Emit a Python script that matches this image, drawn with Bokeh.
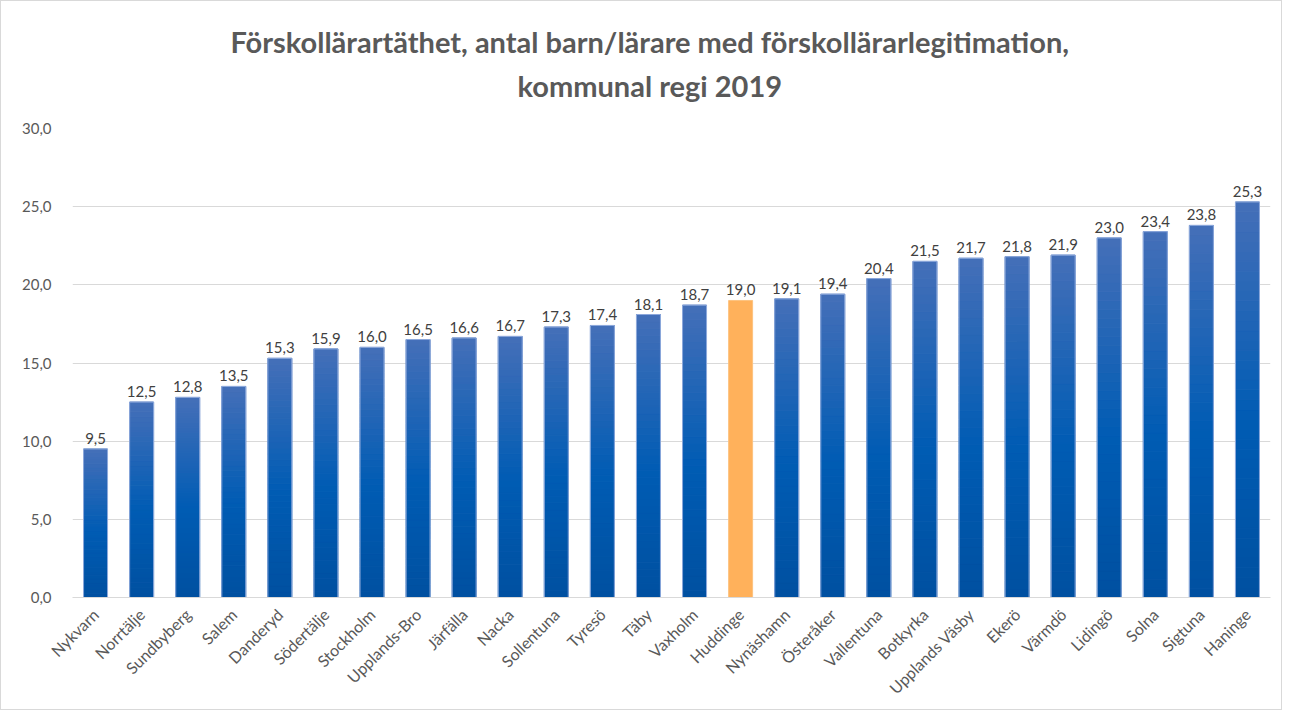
from bokeh.plotting import figure
from bokeh.models import FactorRange, Range1d, Title, CustomJSTickFormatter, ColumnDataSource, FixedTicker
from bokeh.core.properties import value
from bokeh.embed import file_html
from bokeh.resources import INLINE
import math

# ---- data ----
municipalities = ["Nykvarn", "Norrtälje", "Sundbyberg", "Salem", "Danderyd", "Södertälje",
                  "Stockholm", "Upplands-Bro", "Järfälla", "Nacka", "Sollentuna", "Tyresö",
                  "Täby", "Vaxholm", "Huddinge", "Nynäshamn", "Österåker", "Vallentuna",
                  "Botkyrka", "Upplands Väsby", "Ekerö", "Värmdö", "Lidingö", "Solna",
                  "Sigtuna", "Haninge"]
values = [9.5, 12.5, 12.8, 13.5, 15.3, 15.9, 16.0, 16.5, 16.6, 16.7, 17.3, 17.4, 18.1,
          18.7, 19.0, 19.1, 19.4, 20.4, 21.5, 21.7, 21.8, 21.9, 23.0, 23.4, 23.8, 25.3]
highlight = "Huddinge"
y_ticks = [0, 5, 10, 15, 20, 25, 30]
title_line1 = "Förskollärartäthet,  antal barn/lärare  med förskollärarlegitimation,"
title_line2 = "kommunal regi 2019"

FONT = "Lato"
GREY = "#595959"
W, H = 1282, 710
FRAME_L, FRAME_R, FRAME_T, FRAME_B = 71, 1269, 127, 596

p = figure(x_range=FactorRange(*municipalities), y_range=Range1d(0, 30),
           width=W, height=H, output_backend="svg", toolbar_location=None,
           min_border_left=FRAME_L, min_border_right=W - FRAME_R, min_border_top=FRAME_T,
           min_border_bottom=H - FRAME_B)
p.styles = {"border": "1px solid #d9d9d9"}
p.outline_line_color = None
p.background_fill_color = "white"
p.border_fill_color = "white"

# gradient bars (stacked slices per bar, light at the top, dark at the bottom)
def lerp(c1, c2, t):
    return "#%02x%02x%02x" % tuple(int(round(a + (b - a) * t)) for a, b in zip(c1, c2))

top_c = (0x45, 0x6F, 0xB8)
mid_c = (0x00, 0x5C, 0xB4)
bot_c = (0x00, 0x50, 0xA0)
N = 40
xs, bots, tops, cols = [], [], [], []
for name, v in zip(municipalities, values):
    if name == highlight:
        continue
    for k in range(N):
        f = (k + 0.5) / N  # 0 bottom .. 1 top
        if f > 0.45:
            c = lerp(mid_c, top_c, (f - 0.45) / 0.55)
        else:
            c = lerp(bot_c, mid_c, f / 0.45)
        xs.append(name)
        bots.append(v * k / N)
        tops.append(v * (k + 1) / N)
        cols.append(c)
p.vbar(x=xs, bottom=bots, top=tops, width=0.52, fill_color=cols, line_color=cols, line_width=1)

src = ColumnDataSource(dict(x=municipalities, top=values,
                            oc=["#FDC27E" if n == highlight else "#8FAADC" for n in municipalities],
                            fc=["#FFB15B" if n == highlight else "#000000" for n in municipalities],
                            fa=[1.0 if n == highlight else 0.0 for n in municipalities],
                            lab=[f"{v:.1f}".replace(".", ",") for v in values]))
p.vbar(x="x", top="top", bottom=0, width=0.52, source=src, fill_color="fc", fill_alpha="fa",
       line_color="oc", line_width=1)

p.text(x="x", y="top", text="lab", source=src, text_align="center", text_baseline="bottom",
       y_offset=-5, text_font=value(FONT), text_font_size="15px", text_color="#404040")

# axes
p.yaxis.ticker = FixedTicker(ticks=y_ticks)
p.yaxis.formatter = CustomJSTickFormatter(code="return tick.toFixed(1).replace('.', ',');")
p.yaxis.axis_line_color = None
p.yaxis.major_tick_line_color = None
p.yaxis.minor_tick_line_color = None
p.yaxis.major_label_text_font = FONT
p.yaxis.major_label_text_font_size = "15px"
p.yaxis.major_label_text_color = GREY
p.yaxis.major_label_standoff = 15

p.xaxis.axis_line_color = "#D9D9D9"
p.xaxis.major_tick_line_color = None
p.xaxis.minor_tick_line_color = None
p.xaxis.major_label_orientation = math.pi / 4
p.xaxis.major_label_text_font = FONT
p.xaxis.major_label_text_font_size = "16px"
p.xaxis.major_label_text_color = GREY
p.xaxis.major_label_standoff = 8

p.xgrid.grid_line_color = None
p.ygrid.grid_line_color = "#D9D9D9"
p.ygrid.grid_line_width = 1

# titles: stacked in the "above" panel (first added sits closest to the plot)
spacer = Title(text=" ", text_font_size="16px", standoff=0)
t2 = Title(text=title_line2, align="left", offset=445, standoff=14, text_font=FONT,
           text_font_size="29px", text_font_style="bold", text_color=GREY)
t1 = Title(text=title_line1, align="left", offset=158, standoff=0, text_font=FONT,
           text_font_size="29px", text_font_style="bold", text_color=GREY)
p.add_layout(spacer, "above")
p.add_layout(t2, "above")
p.add_layout(t1, "above")

open("out.html", "w").write(file_html(p, INLINE))
